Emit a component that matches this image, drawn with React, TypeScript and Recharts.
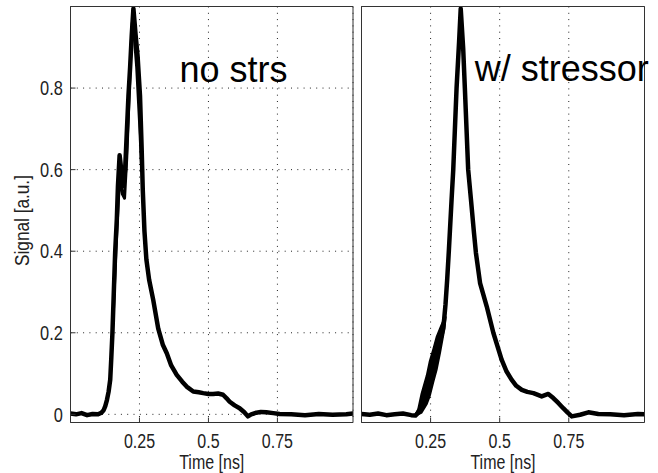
import React from 'react';
import { ComposedChart, Line, Area, XAxis, YAxis, CartesianGrid, ReferenceDot } from 'recharts';

// ---------- data ----------
const xTicks = [0.25, 0.5, 0.75];
const yTicks = [0, 0.2, 0.4, 0.6, 0.8];
const xDomain: [number, number] = [0, 1.024];
const yDomain: [number, number] = [-0.02, 1];
const xLabel = 'Time [ns]';
const yLabel = 'Signal [a.u.]';
const panelTitles = ['no strs', 'w/ stressor'];
const titleTimes = [0.395, 0.41];
const titleSignals = [0.815, 0.818];

// left panel (no stressor) – main trace
const noStrsTime = [0, 0.02, 0.04, 0.06, 0.08, 0.1, 0.112, 0.12, 0.126, 0.132, 0.138, 0.144, 0.148, 0.152, 0.156, 0.162, 0.168, 0.172, 0.178, 0.184, 0.192, 0.198, 0.204, 0.21, 0.216, 0.222, 0.228, 0.236, 0.243, 0.252, 0.258, 0.262, 0.268, 0.275, 0.285, 0.3, 0.318, 0.335, 0.349, 0.365, 0.385, 0.405, 0.421, 0.445, 0.465, 0.481, 0.5, 0.517, 0.535, 0.553, 0.565, 0.577, 0.595, 0.613, 0.63, 0.643, 0.655, 0.674, 0.69, 0.71, 0.735, 0.758, 0.8, 0.85, 0.9, 0.95, 1.0, 1.024];
const noStrsSignal = [0.002, 0.0, 0.003, -0.002, 0.001, 0.0, 0.004, 0.01, 0.02, 0.035, 0.055, 0.085, 0.14, 0.2, 0.28, 0.4, 0.48, 0.56, 0.635, 0.6, 0.56, 0.6, 0.69, 0.78, 0.85, 0.93, 0.995, 0.93, 0.88, 0.78, 0.65, 0.55, 0.45, 0.38, 0.33, 0.28, 0.21, 0.17, 0.15, 0.12, 0.097, 0.08, 0.068, 0.056, 0.054, 0.052, 0.05, 0.05, 0.051, 0.048, 0.04, 0.031, 0.022, 0.015, 0.005, -0.005, 0.0, 0.004, 0.006, 0.005, 0.003, 0.001, 0.0, -0.002, 0.001, -0.001, 0.0, 0.002];
// left panel – second overlapping trace around the double peak
const noStrsTime2 = [0.156, 0.162, 0.168, 0.174, 0.18, 0.188, 0.196, 0.204, 0.212, 0.218, 0.224, 0.232, 0.24, 0.25, 0.258];
const noStrsSignal2 = [0.26, 0.36, 0.45, 0.53, 0.59, 0.54, 0.53, 0.63, 0.77, 0.88, 0.96, 0.92, 0.85, 0.72, 0.6];

// right panel (with stressor) – main trace
const stressTime = [0, 0.03, 0.06, 0.09, 0.12, 0.15, 0.18, 0.195, 0.205, 0.217, 0.236, 0.247, 0.26, 0.272, 0.284, 0.296, 0.304, 0.31, 0.316, 0.326, 0.332, 0.344, 0.353, 0.359, 0.368, 0.374, 0.386, 0.396, 0.407, 0.414, 0.429, 0.453, 0.477, 0.507, 0.525, 0.543, 0.56, 0.58, 0.6, 0.622, 0.652, 0.676, 0.694, 0.712, 0.73, 0.745, 0.761, 0.791, 0.821, 0.857, 0.9, 0.95, 1.0, 1.024];
const stressSignal = [0.001, -0.001, 0.002, -0.002, 0.0, 0.002, -0.002, -0.003, 0.004, 0.02, 0.06, 0.085, 0.12, 0.15, 0.18, 0.21, 0.27, 0.33, 0.4, 0.527, 0.6, 0.8, 0.912, 0.995, 0.896, 0.8, 0.6, 0.527, 0.445, 0.396, 0.322, 0.265, 0.2, 0.134, 0.105, 0.085, 0.07, 0.06, 0.055, 0.052, 0.044, 0.05, 0.04, 0.028, 0.015, 0.005, -0.005, -0.001, 0.005, 0.001, 0.0, -0.002, 0.001, 0.0];
// right panel – spread of traces on the rising edge
const bandTime = [0.195, 0.205, 0.217, 0.236, 0.247, 0.26, 0.272, 0.284, 0.296, 0.305];
const bandLow = [-0.003, 0.0, 0.004, 0.025, 0.045, 0.08, 0.11, 0.15, 0.195, 0.24];
const bandHigh = [0.0, 0.012, 0.05, 0.095, 0.13, 0.16, 0.19, 0.21, 0.23, 0.26];

// ---------- styling ----------
const textFont = "'Liberation Sans', Arial, sans-serif";
const ink = '#000';
const frameInk = '#333';
const textInk = '#222';
const narrow = 0.82;

const toPoints = (ts: number[], vs: number[]) => ts.map((t, i) => ({ t, v: vs[i] }));
const toBand = (ts: number[], lo: number[], hi: number[]) => ts.map((t, i) => ({ t, range: [lo[i], hi[i]] }));

// condensed text, like the original's narrow tick font
const NarrowText = ({ x, y, anchor, dy, size, text, rotate }: any) => (
  <g transform={`translate(${x}, ${y})${rotate ? ` rotate(${rotate})` : ''} scale(${narrow}, 1)`}>
    <text x={0} y={0} dy={dy} textAnchor={anchor} fontFamily={textFont} fontSize={size} fill={textInk}>
      {text}
    </text>
  </g>
);

const XTick = (props: any) => (
  <NarrowText x={props.x} y={props.y} anchor="middle" dy="0.71em" size={19.5} text={String(props.payload.value)} />
);

const YTick = (props: any) => (
  <NarrowText x={props.x} y={props.y} anchor="end" dy="0.36em" size={20} text={String(props.payload.value)} />
);

const XLabel = (props: any) => {
  const vb = props.viewBox || {};
  return (
    <NarrowText
      x={(vb.x || 0) + (vb.width || 0) / 2}
      y={(vb.y || 0) + (vb.height || 0) - 4}
      anchor="middle"
      dy={0}
      size={19.5}
      text={xLabel}
    />
  );
};

const YLabel = (props: any) => {
  const vb = props.viewBox || {};
  return (
    <NarrowText
      x={(vb.x || 0) + 21}
      y={(vb.y || 0) + (vb.height || 0) / 2 + 6}
      anchor="middle"
      dy="0.36em"
      size={21}
      rotate={-90}
      text={yLabel}
    />
  );
};

const TitleLabel = (text: string) => (props: any) => {
  const vb = props.viewBox || {};
  const x = (vb.x || 0) + (vb.width || 0) / 2;
  const y = (vb.y || 0) + (vb.height || 0) / 2;
  return (
    <text x={x} y={y} textAnchor="start" fontFamily={textFont} fontSize={36} fill={ink}>
      {text}
    </text>
  );
};

type PanelProps = {
  left: number;
  width: number;
  yAxisWidth: number;
  marginRight: number;
  showY: boolean;
  traces: { t: number; v: number }[][];
  band?: { t: number; range: number[] }[];
  title: string;
  titleT: number;
  titleV: number;
};

function Panel(p: PanelProps) {
  return (
    <div style={{ position: 'absolute', left: p.left, top: 0 }}>
      <ComposedChart
        width={p.width}
        height={473}
        margin={{ top: 5.5, right: p.marginRight, bottom: 0, left: 0 }}
      >
        <CartesianGrid stroke="#222" strokeDasharray="1 5.3" strokeWidth={1} />
        <XAxis
          xAxisId={0}
          type="number"
          dataKey="t"
          domain={xDomain}
          ticks={xTicks}
          interval={0}
          allowDataOverflow
          height={50.5}
          tickSize={-5}
          tickMargin={17}
          axisLine={{ stroke: frameInk }}
          tickLine={{ stroke: frameInk }}
          tick={<XTick />}
          label={<XLabel />}
        />
        <XAxis
          xAxisId="top"
          orientation="top"
          type="number"
          dataKey="t"
          domain={xDomain}
          ticks={xTicks}
          interval={0}
          allowDataOverflow
          height={1}
          tickSize={-5}
          tick={false}
          axisLine={{ stroke: frameInk }}
          tickLine={{ stroke: frameInk }}
        />
        <YAxis
          yAxisId={0}
          type="number"
          domain={yDomain}
          ticks={yTicks}
          interval={0}
          allowDataOverflow
          width={p.yAxisWidth}
          tickSize={-5}
          tickMargin={12.7}
          axisLine={{ stroke: frameInk }}
          tickLine={{ stroke: frameInk }}
          tick={p.showY ? <YTick /> : false}
          label={p.showY ? <YLabel /> : undefined}
        />
        <YAxis
          yAxisId="right"
          orientation="right"
          type="number"
          domain={yDomain}
          ticks={yTicks}
          interval={0}
          allowDataOverflow
          width={1}
          tickSize={-5}
          tick={false}
          axisLine={{ stroke: frameInk }}
          tickLine={{ stroke: frameInk }}
        />
        {p.band && (
          <Area
            data={p.band}
            dataKey="range"
            xAxisId={0}
            yAxisId={0}
            type="linear"
            stroke={ink}
            strokeWidth={2}
            fill={ink}
            fillOpacity={1}
            dot={false}
            activeDot={false}
            isAnimationActive={false}
          />
        )}
        {p.traces.map((tr, i) => (
          <Line
            key={i}
            data={tr}
            dataKey="v"
            xAxisId={0}
            yAxisId={0}
            type="linear"
            stroke={ink}
            strokeWidth={i === 0 ? 4.5 : 3}
            strokeLinejoin="round"
            strokeLinecap="round"
            dot={false}
            activeDot={false}
            isAnimationActive={false}
          />
        ))}
        <ReferenceDot
          x={p.titleT}
          y={p.titleV}
          r={0}
          xAxisId={0}
          yAxisId={0}
          fill="none"
          stroke="none"
          label={TitleLabel(p.title)}
        />
      </ComposedChart>
    </div>
  );
}

export default function App() {
  return (
    <div style={{ position: 'absolute', left: 0, top: 0, width: 658, height: 473, background: '#fff', overflow: 'hidden' }}>
      <Panel
        left={0}
        width={357}
        yAxisWidth={70.5}
        marginRight={3}
        showY={true}
        traces={[toPoints(noStrsTime, noStrsSignal), toPoints(noStrsTime2, noStrsSignal2)]}
        title={panelTitles[0]}
        titleT={titleTimes[0]}
        titleV={titleSignals[0]}
      />
      <Panel
        left={355}
        width={303}
        yAxisWidth={6.5}
        marginRight={12.5}
        showY={false}
        traces={[toPoints(stressTime, stressSignal)]}
        band={toBand(bandTime, bandLow, bandHigh)}
        title={panelTitles[1]}
        titleT={titleTimes[1]}
        titleV={titleSignals[1]}
      />
    </div>
  );
}
